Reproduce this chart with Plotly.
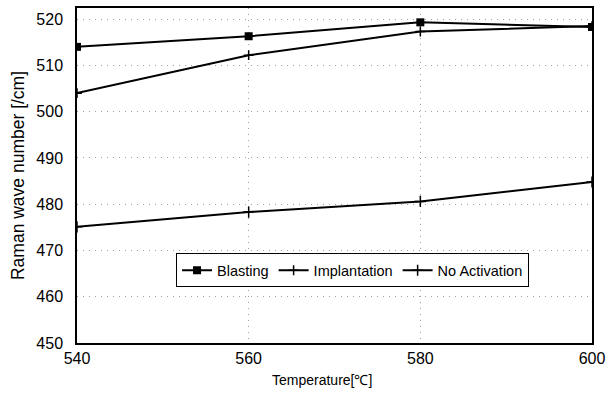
import plotly.graph_objects as go

temps = [540, 560, 580, 600]
blasting = [514.0, 516.3, 519.3, 518.3]
implantation = [504.0, 512.2, 517.3, 518.5]
no_activation = [475.1, 478.3, 480.6, 484.8]
y_ticks = [450, 460, 470, 480, 490, 500, 510, 520]

fig = go.Figure()
fig.add_trace(go.Scatter(x=temps, y=blasting, name="Blasting", mode="lines+markers",
                         line=dict(color="black", width=2),
                         marker=dict(symbol="square", size=8, color="black")))
fig.add_trace(go.Scatter(x=temps, y=implantation, name="Implantation", mode="lines+markers",
                         line=dict(color="black", width=2),
                         marker=dict(symbol="cross-thin-open", size=7, color="black",
                                     line=dict(width=1.5, color="black"))))
fig.add_trace(go.Scatter(x=temps, y=no_activation, name="No Activation", mode="lines+markers",
                         line=dict(color="black", width=2),
                         marker=dict(symbol="cross-thin-open", size=8, color="black",
                                     line=dict(width=1.5, color="black"))))

grid = dict(showgrid=True, gridcolor="#a0a0a0", griddash="1px,5px", gridwidth=1, zeroline=False)

fig.update_layout(
    width=611, height=394,
    margin=dict(l=77, r=14, t=6, b=51),
    paper_bgcolor="white", plot_bgcolor="white",
    font=dict(family="Liberation Sans, Arial", size=16, color="black"),
    showlegend=True,
    legend=dict(orientation="h", x=0.535, y=0.217, xanchor="center", yanchor="middle",
                bordercolor="black", borderwidth=1, bgcolor="white",
                font=dict(size=14.5), itemwidth=30, tracegroupgap=0),
    xaxis=dict(range=[540, 600], tickvals=temps, ticks="", showline=True, linecolor="black",
               linewidth=1.5, mirror=True, tickfont=dict(size=16), **grid),
    yaxis=dict(range=[450, 522.4], tickvals=y_ticks, ticks="", ticklabelstandoff=9,
               showline=True, linecolor="black", linewidth=1.5, mirror=True,
               tickfont=dict(size=16), **grid,
               title=dict(text="Raman wave number [/cm]", font=dict(size=17.5), standoff=7)),
    annotations=[dict(text="Temperature[℃]", xref="paper", yref="paper", x=0.475, y=0,
                      yshift=-27, xanchor="center", yanchor="top", showarrow=False,
                      font=dict(size=14))],
)

fig.write_html("out.html")
